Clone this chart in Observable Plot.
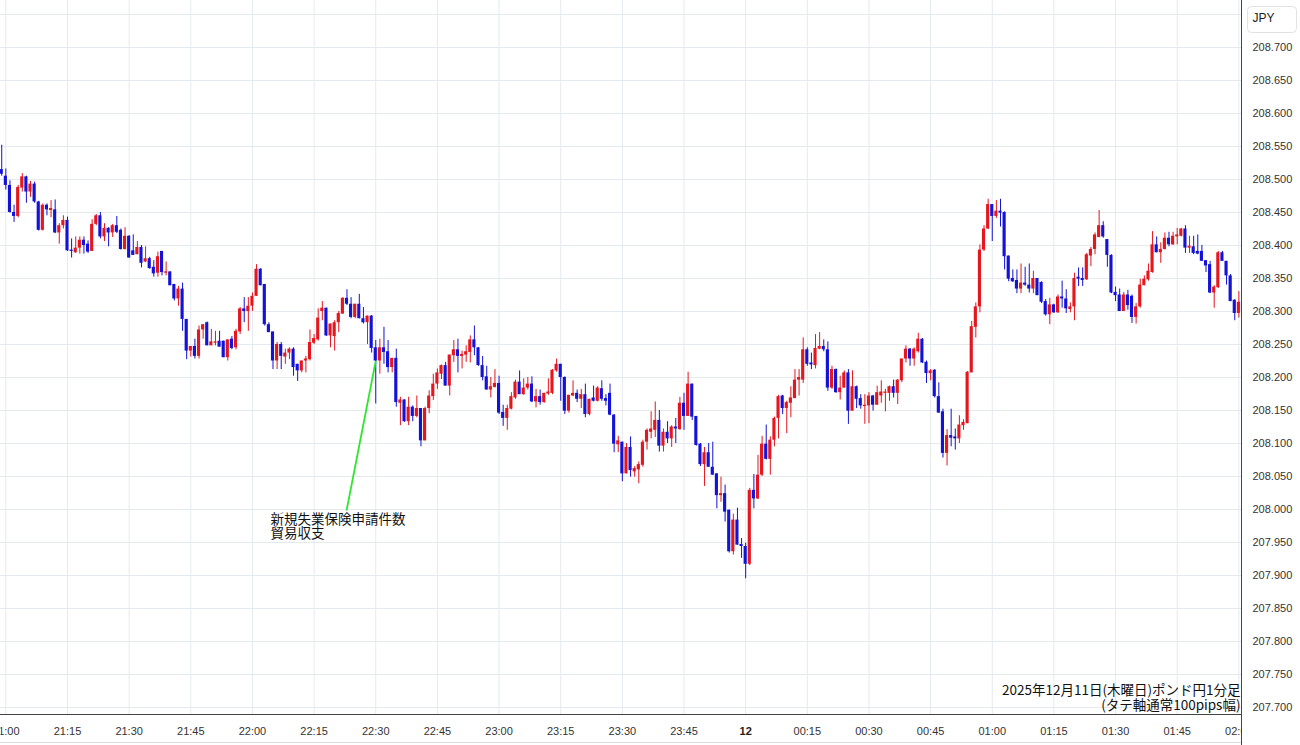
<!DOCTYPE html>
<html><head><meta charset="utf-8">
<script src="https://cdn.jsdelivr.net/npm/d3@7"></script>
<script src="https://cdn.jsdelivr.net/npm/@observablehq/plot@0.6"></script>
<style>html,body{margin:0;padding:0;background:#fff;} svg{display:block}</style>
</head><body><div id="chart"></div>
<script>
// minutes relative to 21:00 (first candle is 20:59)
const firstMinute = -1;
const open = [
208.515,208.505,208.491,208.450,208.444,208.487,208.504,208.481,208.493,208.466,
208.423,208.461,208.453,208.454,208.419,208.430,208.438,208.393,208.389,208.396,
208.408,208.402,208.391,208.432,208.445,208.413,208.426,208.419,208.430,208.423,
208.394,208.414,208.392,208.386,208.397,208.375,208.380,208.367,208.358,208.391,
208.358,208.360,208.341,208.319,208.334,208.288,208.240,208.247,208.232,208.272,
208.283,208.248,208.252,208.255,208.255,208.230,208.258,208.245,208.269,208.304,
208.300,208.308,208.323,208.364,208.341,208.280,208.269,208.225,208.250,208.231,
208.237,208.243,208.220,208.210,208.225,208.227,208.252,208.257,208.300,208.305,
208.263,208.262,208.283,208.296,208.320,208.311,208.291,208.311,208.289,208.283,
208.293,208.245,208.225,208.245,208.239,208.215,208.229,208.161,208.166,208.133,
208.155,208.141,208.153,208.104,208.153,208.171,208.190,208.205,208.218,208.187,
208.233,208.242,208.232,208.234,208.238,208.257,208.245,208.218,208.201,208.181,
208.185,208.191,208.147,208.138,208.152,208.169,208.193,208.174,208.184,208.190,
208.163,208.171,208.162,208.175,208.176,208.210,208.220,208.200,208.149,208.172,
208.176,208.167,208.174,208.144,208.169,208.164,208.183,208.168,208.176,208.143,
208.098,208.102,208.054,208.094,208.057,208.060,208.067,208.102,208.117,208.120,
208.135,208.096,208.117,208.107,208.125,208.121,208.161,208.141,208.190,208.141,
208.099,208.068,208.086,208.064,208.054,208.021,208.024,207.999,207.936,207.984,
207.947,207.944,207.917,208.029,208.016,208.052,208.099,208.076,208.105,208.138,
208.172,208.153,208.161,208.168,208.196,208.196,208.242,208.222,208.218,208.243,
208.247,208.242,208.184,208.212,208.177,208.184,208.207,208.149,208.186,208.168,
208.156,208.157,208.172,208.158,208.172,208.176,208.176,208.186,208.176,208.195,
208.228,208.243,208.228,208.239,208.258,208.223,208.206,208.211,208.171,208.148,
208.085,208.112,208.110,208.107,208.127,208.130,208.207,208.276,208.307,208.393,
208.425,208.462,208.444,208.452,208.450,208.384,208.350,208.347,208.334,208.343,
208.340,208.334,208.350,208.344,208.315,208.295,208.310,208.298,208.322,208.319,
208.303,208.307,208.352,208.350,208.348,208.384,208.394,208.412,208.430,208.409,
208.385,208.329,208.325,208.300,208.325,208.323,208.291,208.307,208.339,208.348,
208.359,208.401,208.389,208.394,208.411,208.401,208.413,208.414,208.425,208.396,
208.398,208.391,208.391,208.377,208.371,208.328,208.336,208.389,208.376,208.354,
208.317,208.297,208.314];
const high = [
208.552,208.516,208.498,208.461,208.491,208.509,208.505,208.497,208.496,208.467,
208.463,208.463,208.468,208.469,208.433,208.445,208.443,208.410,208.413,208.413,
208.413,208.407,208.439,208.447,208.450,208.433,208.427,208.432,208.444,208.425,
208.427,208.415,208.416,208.406,208.400,208.398,208.382,208.377,208.390,208.391,
208.375,208.360,208.341,208.338,208.343,208.288,208.247,208.258,208.278,208.280,
208.284,208.273,208.270,208.270,208.255,208.257,208.262,208.273,208.306,208.321,
208.321,208.328,208.371,208.365,208.341,208.283,208.269,208.253,208.253,208.243,
208.245,208.245,208.220,208.225,208.232,208.272,208.265,208.304,208.315,208.305,
208.281,208.286,208.300,208.321,208.333,208.321,208.311,208.326,208.306,208.293,
208.294,208.256,208.258,208.276,208.256,208.229,208.243,208.170,208.166,208.170,
208.157,208.172,208.153,208.155,208.180,208.205,208.213,208.219,208.223,208.234,
208.256,208.258,208.240,208.248,208.263,208.278,208.245,208.232,208.217,208.200,
208.212,208.202,208.158,208.158,208.177,208.196,208.210,208.198,208.200,208.201,
208.182,208.181,208.176,208.198,208.212,208.228,208.220,208.201,208.173,208.195,
208.181,208.182,208.190,208.167,208.187,208.186,208.195,208.174,208.190,208.144,
208.111,208.102,208.100,208.110,208.065,208.072,208.105,208.122,208.148,208.163,
208.150,208.122,208.133,208.127,208.138,208.170,208.176,208.208,208.190,208.141,
208.100,208.094,208.100,208.102,208.054,208.049,208.037,207.999,207.993,208.002,
207.956,207.949,208.032,208.053,208.082,208.111,208.128,208.110,208.140,208.173,
208.173,208.164,208.186,208.212,208.212,208.260,208.245,208.237,208.265,208.268,
208.257,208.254,208.217,208.213,208.202,208.210,208.212,208.210,208.187,208.174,
208.174,208.177,208.173,208.187,208.195,208.182,208.187,208.196,208.197,208.228,
208.248,208.244,208.245,208.267,208.259,208.225,208.212,208.212,208.192,208.152,
208.121,208.152,208.122,208.142,208.136,208.209,208.285,208.313,208.401,208.430,
208.470,208.462,208.468,208.470,208.451,208.384,208.363,208.363,208.372,208.367,
208.372,208.361,208.350,208.345,208.318,208.320,208.311,208.325,208.346,208.333,
208.313,208.358,208.366,208.366,208.388,208.397,208.419,208.453,208.436,208.409,
208.386,208.337,208.334,208.329,208.332,208.325,208.312,208.349,208.354,208.372,
208.421,208.413,208.404,208.419,208.420,208.420,208.426,208.426,208.430,208.414,
208.414,208.416,208.400,208.377,208.376,208.339,208.391,208.391,208.376,208.356,
208.318,208.330,208.323];
const low = [
208.505,208.484,208.449,208.435,208.442,208.481,208.464,208.473,208.464,208.422,
208.422,208.445,208.442,208.418,208.402,208.425,208.391,208.381,208.388,208.387,
208.387,208.388,208.391,208.430,208.410,208.406,208.398,208.412,208.418,208.393,
208.393,208.381,208.385,208.386,208.366,208.374,208.364,208.352,208.352,208.354,
208.354,208.339,208.316,208.308,208.270,208.227,208.231,208.228,208.228,208.258,
208.248,208.248,208.248,208.246,208.230,208.225,208.242,208.242,208.265,208.283,
208.270,208.300,208.323,208.339,208.278,208.268,208.212,208.212,208.212,208.220,
208.227,208.202,208.194,208.207,208.207,208.225,208.250,208.255,208.286,208.262,
208.245,208.240,208.268,208.296,208.309,208.289,208.289,208.289,208.281,208.250,
208.237,208.160,208.205,208.220,208.207,208.207,208.155,208.127,208.132,208.127,
208.133,208.139,208.095,208.104,208.145,208.165,208.182,208.197,208.187,208.172,
208.223,208.207,208.213,208.223,208.222,208.233,208.217,208.195,208.181,208.169,
208.184,208.144,208.126,208.120,208.151,208.167,208.174,208.173,208.181,208.162,
208.154,208.158,208.161,208.173,208.174,208.208,208.164,208.144,208.146,208.171,
208.162,208.153,208.139,208.142,208.163,208.163,208.164,208.157,208.142,208.086,
208.086,208.042,208.054,208.049,208.049,208.039,208.064,208.090,208.107,208.109,
208.087,208.087,208.100,208.094,208.100,208.120,208.120,208.141,208.135,208.096,
208.065,208.035,208.064,208.052,208.001,208.011,207.981,207.934,207.931,207.946,
207.926,207.895,207.915,208.001,208.015,208.050,208.075,208.052,208.095,208.107,
208.144,208.115,208.139,208.168,208.172,208.191,208.217,208.212,208.213,208.242,
208.239,208.179,208.182,208.176,208.166,208.184,208.129,208.149,208.153,208.152,
208.129,208.130,208.149,208.158,208.161,208.148,208.164,208.169,208.159,208.192,
208.222,208.217,208.217,208.237,208.221,208.191,208.195,208.169,208.146,208.078,
208.066,208.095,208.090,208.100,208.120,208.130,208.207,208.260,208.298,208.391,
208.424,208.406,208.441,208.428,208.363,208.345,208.344,208.327,208.327,208.338,
208.328,208.327,208.324,208.312,208.293,208.280,208.297,208.297,208.305,208.297,
208.298,208.286,208.338,208.338,208.347,208.368,208.386,208.412,208.411,208.367,
208.327,208.315,208.300,208.300,208.302,208.282,208.281,208.305,208.339,208.346,
208.358,208.389,208.373,208.393,208.398,208.400,208.401,208.413,208.388,208.388,
208.386,208.386,208.376,208.359,208.327,208.305,208.335,208.376,208.340,208.315,
208.286,208.290,208.297];
const close = [
208.508,208.491,208.450,208.444,208.488,208.504,208.481,208.493,208.466,208.423,
208.461,208.454,208.456,208.419,208.430,208.438,208.392,208.391,208.396,208.408,
208.400,208.390,208.432,208.445,208.413,208.426,208.419,208.430,208.420,208.394,
208.414,208.381,208.385,208.397,208.373,208.380,208.365,208.357,208.383,208.359,
208.360,208.339,208.319,208.334,208.288,208.240,208.247,208.232,208.272,208.280,
208.248,208.254,208.254,208.246,208.230,208.257,208.244,208.270,208.304,208.300,
208.308,208.323,208.364,208.339,208.280,208.268,208.225,208.250,208.232,208.237,
208.243,208.215,208.210,208.225,208.228,208.253,208.259,208.290,208.305,208.263,
208.281,208.283,208.297,208.320,208.311,208.291,208.311,208.289,208.283,208.293,
208.244,208.225,208.245,208.238,208.215,208.229,208.162,208.166,208.133,208.155,
208.141,208.153,208.104,208.153,208.172,208.190,208.207,208.218,208.187,208.234,
208.242,208.232,208.235,208.239,208.257,208.245,208.218,208.200,208.181,208.186,
208.191,208.146,208.138,208.153,208.171,208.193,208.174,208.184,208.190,208.163,
208.171,208.162,208.176,208.178,208.211,208.220,208.200,208.149,208.173,208.176,
208.167,208.174,208.144,208.167,208.164,208.184,208.167,208.164,208.143,208.099,
208.104,208.054,208.094,208.059,208.062,208.068,208.102,208.120,208.122,208.135,
208.096,208.117,208.107,208.125,208.122,208.161,208.141,208.190,208.140,208.097,
208.068,208.086,208.064,208.052,208.021,208.024,207.996,207.936,207.984,207.946,
207.944,207.917,208.029,208.016,208.052,208.099,208.076,208.105,208.138,208.171,
208.153,208.162,208.169,208.196,208.200,208.242,208.220,208.219,208.244,208.247,
208.242,208.184,208.212,208.177,208.184,208.207,208.149,208.186,208.167,208.157,
208.158,208.172,208.158,208.177,208.178,208.178,208.186,208.176,208.196,208.228,
208.243,208.228,208.243,208.258,208.222,208.206,208.210,208.171,208.146,208.085,
208.112,208.108,208.107,208.128,208.132,208.208,208.277,208.307,208.393,208.425,
208.462,208.444,208.452,208.449,208.383,208.349,208.345,208.334,208.343,208.340,
208.334,208.350,208.324,208.314,208.295,208.310,208.298,208.322,208.319,208.304,
208.307,208.350,208.349,208.347,208.386,208.394,208.416,208.430,208.413,208.385,
208.328,208.324,208.300,208.325,208.309,208.291,208.307,208.340,208.349,208.361,
208.401,208.389,208.394,208.411,208.401,208.414,208.416,208.425,208.396,208.399,
208.388,208.387,208.376,208.369,208.328,208.337,208.389,208.376,208.354,208.315,
208.297,208.314,208.300];

const xTickMinutes = [0,15,30,45,60,75,90,105,120,135,150,165,180,195,210,225,240,255,270,285,300];
const xTickLabels = ["21:00","21:15","21:30","21:45","22:00","22:15","22:30","22:45","23:00","23:15","23:30","23:45","12","00:15","00:30","00:45","01:00","01:15","01:30","01:45","02:00"];
const yTickValues = [207.70,207.75,207.80,207.85,207.90,207.95,208.00,208.05,208.10,208.15,208.20,208.25,208.30,208.35,208.40,208.45,208.50,208.55,208.60,208.65,208.70];
const yGridValues = yTickValues.concat([208.75]);
const currencyLabel = "JPY";
const captionLines = ["2025年12月11日(木曜日)ポンド円1分足", "(タテ軸通常100pips幅)"];
const annotationLines = ["新規失業保険申請件数", "貿易収支"];
const annotationTarget = {minute: 90, price: 208.225};
const annotationLineEnd = {minute: 82.9, price: 207.9985};
const annotationLabelAt = {minute: 64.4, price: 207.994};

const xDomain = [-1.3, 300.64];
const yDomain = [207.6894, 208.7712];
const upColor = "#e5161d", downColor = "#1212d8", gridColor = "#e5eaef";
const jpFont = "'Noto Sans CJK JP', 'Noto Sans', sans-serif";

const candles = open.map((o, i) => ({t: firstMinute + i, open: o, high: high[i], low: low[i], close: close[i]}));
const candleColor = d => d.close >= d.open ? upColor : downColor;

const chart = Plot.plot({
  width: 1300, height: 745,
  marginLeft: 0, marginRight: 59, marginTop: 0, marginBottom: 31,
  style: {fontFamily: "'Liberation Sans', Arial, sans-serif", fontSize: "11px", color: "#333", background: "#fff", overflow: "hidden"},
  x: {domain: xDomain},
  y: {domain: yDomain},
  color: {type: "identity"},
  marks: [
    Plot.gridY(yGridValues, {stroke: gridColor, strokeOpacity: 1}),
    Plot.gridX(xTickMinutes, {stroke: gridColor, strokeOpacity: 1}),
    Plot.ruleX(candles, {x: "t", y1: "low", y2: "high", stroke: candleColor, strokeWidth: 1, clip: true}),
    Plot.rect(candles, {x1: d => d.t - 0.38, x2: d => d.t + 0.38, y1: "open", y2: "close", fill: candleColor, clip: true}),
    Plot.link([{a: annotationTarget, b: annotationLineEnd}], {
      x1: d => d.a.minute, y1: d => d.a.price, x2: d => d.b.minute, y2: d => d.b.price,
      stroke: "#2ee62e", strokeWidth: 1.8
    }),
    Plot.text([annotationLabelAt], {
      x: "minute", y: "price", text: () => annotationLines.join("\n"),
      textAnchor: "start", lineAnchor: "top", fontSize: 13.5, lineHeight: 1.05,
      fontFamily: jpFont, fill: "#111"
    }),
    Plot.text([captionLines.join("\n")], {
      frameAnchor: "bottom-right", textAnchor: "end", lineAnchor: "bottom",
      fontSize: 13.5, lineHeight: 1.06, fontFamily: jpFont, fill: "#111", dx: -1, dy: -5
    }),
    Plot.ruleY([yDomain[0]], {stroke: "#444"}),
    Plot.ruleY([yDomain[0]], {stroke: "#dcdcdc", dy: 28}),
    Plot.ruleX([xDomain[1]], {stroke: "#444", insetBottom: -31}),
    Plot.axisY(yTickValues, {anchor: "right", tickSize: 0, tickPadding: 11, tickFormat: d3.format(".3f"), label: null, fill: "#333", fontSize: 11}),
    Plot.axisX(xTickMinutes.filter(m => m !== 180), {anchor: "bottom", tickSize: 0, tickPadding: 13, label: null, fill: "#333", fontSize: 11,
      tickFormat: m => xTickLabels[xTickMinutes.indexOf(m)]}),
    Plot.axisX([180], {anchor: "bottom", tickSize: 0, tickPadding: 13, label: null, fill: "#222", fontSize: 11, fontWeight: "bold",
      tickFormat: m => xTickLabels[xTickMinutes.indexOf(m)]}),
    Plot.text([currencyLabel], {frameAnchor: "top-right", textAnchor: "start", lineAnchor: "middle", dx: 11, dy: 18, fontSize: 12, fill: "#222"})
  ]
});

// post-process: clip x-axis labels at the right axis line, add currency box
const svg = d3.select(chart);
const defs = svg.insert("defs", ":first-child");
defs.append("clipPath").attr("id", "xlabelclip").append("rect").attr("x", 0).attr("y", 0).attr("width", 1241).attr("height", 745);
svg.selectAll('g[aria-label="x-axis tick label"]').attr("clip-path", "url(#xlabelclip)");
svg.insert("rect", 'g[aria-label="text"]:last-of-type')
  .attr("x", 1247.5).attr("y", 6.5).attr("width", 49).attr("height", 26).attr("rx", 4)
  .attr("fill", "#fff").attr("stroke", "#e2e2e2");
document.getElementById("chart").append(chart);
</script>
</body></html>
